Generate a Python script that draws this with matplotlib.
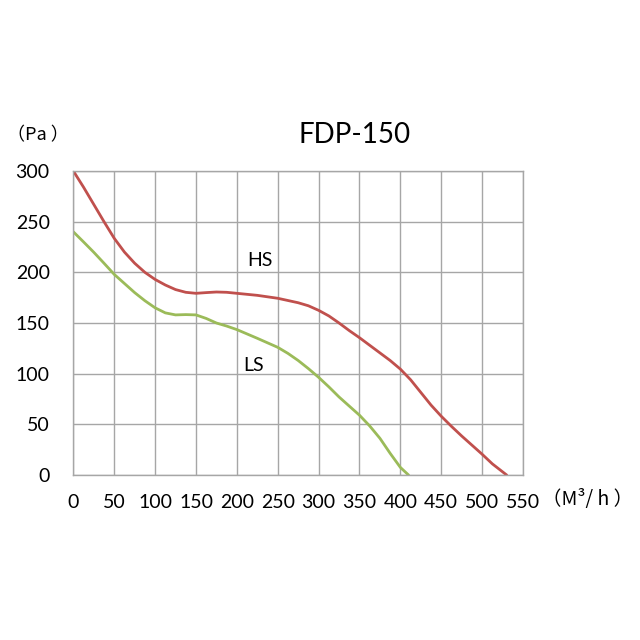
import matplotlib
matplotlib.use('Agg')
import matplotlib.pyplot as plt

# Airflow (M3/h) vs static pressure (Pa)
HS_X = [0, 12.5, 25, 37.5, 50, 62.5, 75, 87.5, 100, 112.5, 125, 137.5, 150, 162.5, 175, 187.5,
        200, 225, 250, 275, 287.5, 300, 312.5, 325, 337.5, 350, 362.5, 375, 387.5, 400,
        412.5, 425, 437.5, 450, 462.5, 475, 487.5, 500, 512.5, 530]
HS_Y = [300, 284, 267, 250, 233.6, 220, 209, 200, 193, 187.5, 183, 180.3, 179.3, 180, 180.6, 180.3,
        179.3, 177.3, 174.4, 170, 167, 162.5, 157, 150, 142.5, 135.5, 128, 120.5, 113, 104.5,
        94, 81.5, 69, 58, 48, 38.5, 29.5, 20.5, 11, 0]

LS_X = [0, 12.5, 25, 37.5, 50, 62.5, 75, 87.5, 100, 112.5, 125, 137.5, 150, 162.5, 175, 187.5,
        200, 225, 250, 262.5, 275, 287.5, 300, 312.5, 325, 337.5, 350, 362.5, 375, 387.5, 400, 410]
LS_Y = [240, 230, 219.8, 209, 198, 189, 180, 172, 165, 160, 158, 158.3, 158, 154.5, 150, 147,
        143.5, 134.9, 126, 120, 113, 105, 96.4, 87, 77, 68, 59, 48.4, 36.2, 21.4, 7.5, 0]

X_TICKS = list(range(0, 551, 50))
Y_TICKS = list(range(0, 301, 50))

TITLE = 'FDP-150'
Y_UNIT = '（Pa ）'
X_UNIT = '（M³/ h ）'

FONT = ['Lato', 'Noto Sans CJK SC', 'DejaVu Sans']
CJK = ['Noto Sans CJK SC', 'DejaVu Sans']
plt.rcParams['font.family'] = FONT

RED = '#c0504d'
GREEN = '#9bbb59'
GRID = '#a6a6a6'

fig = plt.figure(figsize=(6.4, 6.4), dpi=100)
ax = fig.add_axes([0.1146, 0.2578, 0.7026, 0.475])

ax.plot(HS_X, HS_Y, color=RED, lw=2.0, solid_capstyle='round', solid_joinstyle='round')
ax.plot(LS_X, LS_Y, color=GREEN, lw=2.0, solid_capstyle='round', solid_joinstyle='round')

ax.set_xlim(0, 550)
ax.set_ylim(0, 300)
ax.set_xticks(X_TICKS)
ax.set_yticks(Y_TICKS)
ax.tick_params(length=0, labelsize=14, colors='black')
ax.tick_params(axis='x', pad=14)
ax.tick_params(axis='y', pad=17)
ax.grid(True, color=GRID, lw=1.0)
for s in ax.spines.values():
    s.set_color(GRID)
    s.set_linewidth(1.0)

ax.text(228, 212, 'HS', fontsize=14, ha='center', va='center')
ax.text(221, 108, 'LS', fontsize=14, ha='center', va='center')

fig.text(355 / 640, 1 - 135 / 640, TITLE, fontsize=20, ha='center', va='center')
fig.text(38 / 640, 1 - 135 / 640, Y_UNIT, fontsize=13, ha='center', va='center', family=CJK)
fig.text(588 / 640, 1 - 499 / 640, X_UNIT, fontsize=14, ha='center', va='center', family=CJK)

fig.savefig('out.png', dpi=100)
